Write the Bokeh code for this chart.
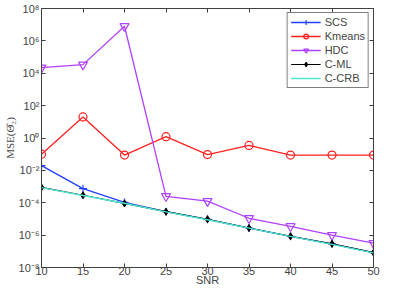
from bokeh.plotting import figure
from bokeh.models import FixedTicker, CustomJSTickFormatter, LinearAxis, LogAxis, Range1d
from bokeh.embed import file_html
from bokeh.resources import INLINE

snr = [10, 15, 20, 25, 30, 35, 40, 45, 50]
scs = [1.95e-2, 7.4e-4, 1.05e-4, 2.8e-5, 9.5e-6, 2.75e-6, 8.5e-7, 2.9e-7, 8.3e-8]
kmeans = [0.1, 20, 0.088, 1.2, 0.095, 0.35, 0.088, 0.088, 0.088]
hdc = [2.2e4, 3.4e4, 8e6, 2.5e-4, 1.25e-4, 1.1e-5, 3.5e-6, 1.0e-6, 3.2e-7]
cml = [8.9e-4, 2.9e-4, 9.1e-5, 2.8e-5, 9.5e-6, 2.75e-6, 8.5e-7, 2.9e-7, 8.3e-8]
ccrb = [8.6e-4, 2.8e-4, 9.3e-5, 2.75e-5, 8.9e-6, 2.7e-6, 8.4e-7, 2.7e-7, 8.0e-8]
x_ticks = [10, 15, 20, 25, 30, 35, 40, 45, 50]
y_ticks = [1e-8, 1e-6, 1e-4, 1e-2, 1e0, 1e2, 1e4, 1e6, 1e8]

p = figure(width=383, height=288, y_axis_type="log", output_backend="svg",
           toolbar_location=None, x_range=Range1d(10, 50), y_range=Range1d(1e-8, 1e8),
           min_border_left=32, min_border_right=10, min_border_top=8, min_border_bottom=10)
p.grid.visible = False
p.outline_line_color = "#404040"
p.background_fill_color = "white"

fmt = CustomJSTickFormatter(code="""
const e = Math.round(Math.log10(tick));
const sup = {'-':'\u207b','0':'\u2070','1':'\u00b9','2':'\u00b2','3':'\u00b3','4':'\u2074','5':'\u2075','6':'\u2076','7':'\u2077','8':'\u2078','9':'\u2079'};
return '10' + String(e).split('').map(c => sup[c]).join('');
""")

ax_style = dict(axis_line_color="#404040", major_tick_line_color="#404040",
                major_tick_in=4, major_tick_out=0, minor_tick_line_color=None)

xa = p.xaxis[0]
xa.ticker = FixedTicker(ticks=x_ticks)
xa.axis_label = "SNR"
xa.axis_label_text_font = "Liberation Sans"
xa.axis_label_text_font_size = "11px"
xa.axis_label_text_font_style = "normal"
xa.axis_label_standoff = -4
xa.major_label_text_font = "Liberation Sans"
xa.major_label_text_font_size = "11px"
xa.major_label_standoff = -1
for k, v in ax_style.items():
    setattr(xa, k, v)

ya = p.yaxis[0]
ya.ticker = FixedTicker(ticks=y_ticks)
ya.formatter = fmt
ya.axis_label = "MSE(\u0398\u0302\u2082)"
ya.axis_label_text_font = "Liberation Serif"
ya.axis_label_text_font_size = "11px"
ya.axis_label_text_font_style = "normal"
ya.axis_label_standoff = 0
ya.major_label_text_font = "Liberation Sans"
ya.major_label_text_font_size = "11px"
ya.major_label_standoff = 2
for k, v in ax_style.items():
    setattr(ya, k, v)

top = LinearAxis(ticker=FixedTicker(ticks=x_ticks), major_label_text_font_size="1px",
                 major_label_text_alpha=0, major_label_standoff=0, **ax_style)
right = LogAxis(ticker=FixedTicker(ticks=y_ticks), major_label_text_font_size="1px",
                major_label_text_alpha=0, major_label_standoff=0, **ax_style)
p.add_layout(top, "above")
p.add_layout(right, "right")

p.line(snr, scs, color="#2040ff", line_width=1.3, legend_label="SCS")
p.scatter(snr, scs, marker="cross", size=8, line_color="#2040ff", line_width=1.2, legend_label="SCS")

p.line(snr, kmeans, color="#ff2020", line_width=1.3, legend_label="Kmeans")
p.scatter(snr, kmeans, marker="circle", size=8, line_color="#ff2020", fill_color=None, line_width=1.2, legend_label="Kmeans")

p.line(snr, hdc, color="#b040ff", line_width=1.3, legend_label="HDC")
p.scatter(snr, hdc, marker="inverted_triangle", size=9, line_color="#b040ff", fill_color=None, line_width=1.2, legend_label="HDC")

p.line(snr, cml, color="black", line_width=1.2, legend_label="C-ML")
p.scatter(snr, cml, marker="diamond", size=7, line_color="black", fill_color="black", legend_label="C-ML")

p.line(snr, ccrb, color="#50e8d0", line_width=1.3, legend_label="C-CRB")

lg = p.legend[0]
lg.location = "top_right"
lg.border_line_color = "black"
lg.border_line_width = 1
lg.background_fill_alpha = 1
lg.label_text_font = "Liberation Sans"
lg.label_text_font_size = "11px"
lg.label_height = 12
lg.glyph_height = 12
lg.glyph_width = 30
lg.spacing = 2
lg.padding = 3
lg.margin = 4
lg.label_standoff = 4

open("out.html", "w").write(file_html(p, INLINE))
